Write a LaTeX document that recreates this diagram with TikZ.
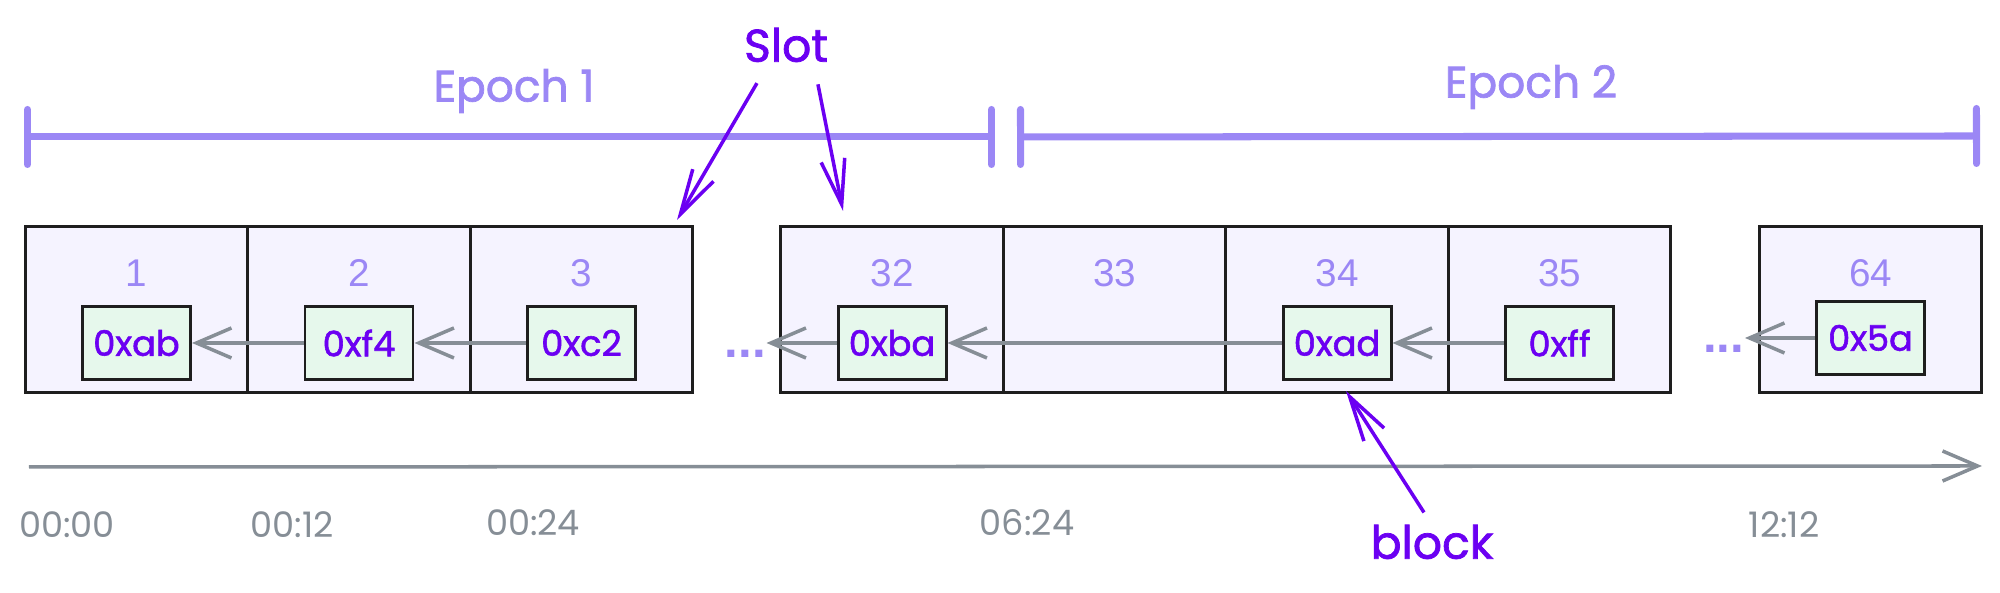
\documentclass[tikz,border=0pt]{standalone}
\usepackage{fontspec}
\setmainfont{Poppins}
\newfontfamily\handfont[FakeBold=1.6]{Poppins}
\newfontfamily\numfont{Liberation Sans}
\usepackage{xcolor}
\usetikzlibrary{arrows.meta,positioning}

\definecolor{softcol}{HTML}{9B87F5}
\definecolor{inkcol}{HTML}{6B00F2}
\definecolor{slotfill}{HTML}{F5F3FF}
\definecolor{blkfill}{HTML}{E6F8EC}
\definecolor{linkcol}{HTML}{868E96}
\definecolor{framecol}{HTML}{1E1E1E}

\begin{document}
\begin{tikzpicture}[
    slotbox/.style={draw=framecol, fill=slotfill, line width=0.85pt, outer sep=0pt,
                    minimum width=2.225cm, minimum height=1.66cm},
    num/.style={text=softcol, font=\numfont\fontsize{11}{13}\selectfont, inner sep=0pt},
    blk/.style={draw=framecol, fill=blkfill, line width=0.85pt, minimum width=1.08cm,
                minimum height=0.73cm, inner sep=0pt, text=inkcol,
                font=\handfont\fontsize{10}{12}\selectfont},
    dots/.style={text=softcol, font=\numfont\bfseries\fontsize{14}{14}\selectfont,
                 inner sep=0pt, text height=3mm, text depth=0pt},
    link/.style={-{Straight Barb[length=3.5mm,width=3mm]}, line width=1pt, draw=linkcol},
    note/.style={-{Straight Barb[length=4.5mm,width=2.4mm]}, line width=1pt, draw=inkcol},
    span/.style={{Bar[width=5.5mm,round]}-{Bar[width=5.5mm,round]}, line width=2pt,
                 draw=softcol, line cap=round},
    epoch/.style={text=softcol, font=\handfont\fontsize{12.5}{14}\selectfont},
    hand/.style={text=inkcol, font=\handfont\fontsize{13}{15}\selectfont},
    stamp/.style={text=linkcol, font=\fontsize{10}{12}\selectfont},
  ]
    \useasboundingbox (0,0) rectangle (20,5.93);

    % epochs
    \coordinate (e1a) at (0.24,4.56);
    \coordinate (e1b) at (9.95,4.56);
    \coordinate (e2a) at (10.17,4.56);
    \coordinate (e2b) at (19.80,4.57);
    \draw[span] (e1a) -- (e1b);
    \draw[span] (e2a) -- (e2b);
    \node[epoch] (ep1) at (5.14,5.02) {Epoch 1};
    \node[epoch] (ep2) at (15.31,5.06) {Epoch 2};

    % slots
    \node[slotbox] (s1) at (1.365,2.83) {};
    \node[slotbox, right=0pt of s1]  (s2)  {};
    \node[slotbox, right=0pt of s2]  (s3)  {};
    \node[slotbox] (s32) at (8.92,2.83) {};
    \node[slotbox, right=0pt of s32] (s33) {};
    \node[slotbox, right=0pt of s33] (s34) {};
    \node[slotbox, right=0pt of s34] (s35) {};
    \node[slotbox] (s64) at (18.705,2.83) {};

    \node[num, below=0.32cm of s1.north]  (n1)  {1};
    \node[num, below=0.32cm of s2.north]  (n2)  {2};
    \node[num, below=0.32cm of s3.north]  (n3)  {3};
    \node[num, below=0.32cm of s32.north] (n32) {32};
    \node[num, below=0.32cm of s33.north] (n33) {33};
    \node[num, below=0.32cm of s34.north] (n34) {34};
    \node[num, below=0.32cm of s35.north] (n35) {35};
    \node[num, below=0.32cm of s64.north] (n64) {64};

    % blocks
    \node[blk] (b1)  at ([yshift=-3.3mm]s1.center)  {0xab};
    \node[blk] (b2)  at ([yshift=-3.3mm]s2.center)  {0xf4};
    \node[blk] (b3)  at ([yshift=-3.3mm]s3.center)  {0xc2};
    \node[blk] (b32) at ([yshift=-3.3mm]s32.center) {0xba};
    \node[blk] (b34) at ([yshift=-3.3mm]s34.center) {0xad};
    \node[blk] (b35) at ([yshift=-3.3mm]s35.center) {0xff};
    \node[blk] (b64) at ([yshift=-2.8mm]s64.center) {0x5a};
    \node[dots, left=7mm of b32] (d1) {...};
    \node[dots, left=7mm of b64] (d2) {...};

    \draw[link] (b2)  -- (b1);
    \draw[link] (b3)  -- (b2);
    \draw[link] (b32) -- (d1);
    \draw[link] (b34) -- (b32);
    \draw[link] (b35) -- (b34);
    \draw[link] (b64) -- (d2);

    % time axis
    \coordinate (t0) at (0.29,1.26);
    \coordinate (t1) at (19.82,1.27);
    \draw[link] (t0) -- (t1);
    \node[stamp] (h0)  at (0.67,0.68)  {00:00};
    \node[stamp] (h1)  at (2.92,0.68)  {00:12};
    \node[stamp] (h2)  at (5.33,0.70)  {00:24};
    \node[stamp] (h32) at (10.27,0.70) {06:24};
    \node[stamp] (h64) at (17.84,0.68) {12:12};

    % notes
    \node[hand] (slotlbl) at (7.86,5.48) {Slot};
    \coordinate (slotA) at (6.77,3.73);
    \coordinate (slotB) at (8.43,3.82);
    \draw[note, shorten <=1mm] ([xshift=-2.4mm]slotlbl.south) -- (slotA);
    \draw[note, shorten <=1mm] ([xshift=3mm]slotlbl.south) -- (slotB);

    \node[hand] (blocklbl) at (14.32,0.51) {block};
    \coordinate (blkA) at (13.46,2.02);
    \draw[note] ([xshift=-0.8mm]blocklbl.north) -- (blkA);
\end{tikzpicture}
\end{document}
